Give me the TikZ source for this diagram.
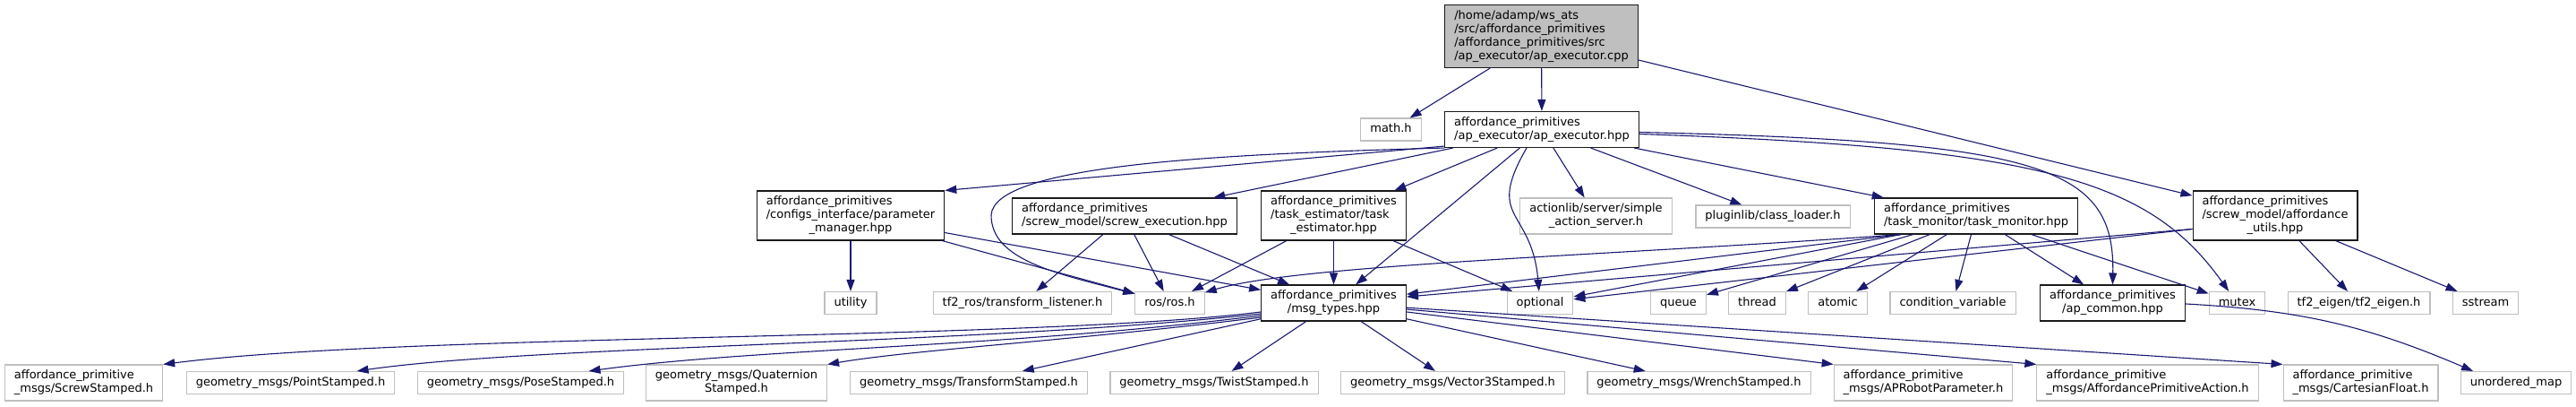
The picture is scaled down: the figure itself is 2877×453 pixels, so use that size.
\documentclass[tikz,border=0pt]{standalone}
\usepackage{fontspec}
\setmainfont{DejaVu Sans}
\usetikzlibrary{arrows.meta}
\definecolor{navy}{HTML}{191970}
\definecolor{grey75}{HTML}{BFBFBF}
\definecolor{ink}{HTML}{1A1A1A}
\newcommand{\dlines}[2]{\begin{tabular}{@{}l@{}}#1\\\multicolumn{1}{@{}c@{}}{#2}\end{tabular}}

\begin{document}
\begin{tikzpicture}[x=1pt,y=1pt,font=\fontsize{13}{15}\selectfont,
  file/.style={draw,line width=1.1pt,inner xsep=10.5pt,inner ysep=5pt,execute at begin node=\strut},
  doc/.style={file,draw=ink,fill=white},
  ext/.style={file,draw=grey75,fill=white},
  mainfile/.style={doc,fill=grey75},
  dep/.style={-{Triangle[length=13pt,width=9pt]},draw=navy,line width=1.1pt}]
\useasboundingbox (0,0) rectangle (2877,-453);
\node[mainfile] (root) at (1721.5,-40.5) {\dlines{/home/adamp/ws\_ats\\/src/affordance\_primitives\\/affordance\_primitives/src}{/ap\_executor/ap\_executor.cpp}};
\node[ext] (mathh) at (1553.5,-144.5) {math.h};
\node[doc] (apexec) at (1722,-144.5) {\dlines{affordance\_primitives}{/ap\_executor/ap\_executor.hpp}};

\node[doc] (param) at (950,-240.5) {\dlines{affordance\_primitives\\/configs\_interface/parameter}{\_manager.hpp}};
\node[doc] (screwexec) at (1256,-241) {\dlines{affordance\_primitives}{/screw\_model/screw\_execution.hpp}};
\node[doc] (taskest) at (1489.5,-240.5) {\dlines{affordance\_primitives\\/task\_estimator/task}{\_estimator.hpp}};
\node[ext] (actionlib) at (1782.5,-241) {\dlines{actionlib/server/simple}{\_action\_server.h}};
\node[ext] (pluginlib) at (1980,-241.5) {pluginlib/class\_loader.h};
\node[doc] (taskmon) at (2207,-241) {\dlines{affordance\_primitives}{/task\_monitor/task\_monitor.hpp}};
\node[doc] (affutils) at (2541,-240.5) {\dlines{affordance\_primitives\\/screw\_model/affordance}{\_utils.hpp}};

\node[ext] (utility) at (950,-338) {utility};
\node[ext] (tfros) at (1142,-338) {tf2\_ros/transform\_listener.h};
\node[ext] (rosh) at (1306.5,-338) {ros/ros.h};
\node[doc] (msgtypes) at (1489.5,-338) {\dlines{affordance\_primitives}{/msg\_types.hpp}};
\node[ext] (optional) at (1720,-338) {optional};
\node[ext] (queue) at (1874.5,-338) {queue};
\node[ext] (thread) at (1962.5,-338) {thread};
\node[ext] (atomic) at (2052.5,-338) {atomic};
\node[ext] (condvar) at (2181,-338) {condition\_variable};
\node[doc] (apcommon) at (2359.5,-338) {\dlines{affordance\_primitives}{/ap\_common.hpp}};
\node[ext] (mutex) at (2498.5,-338) {mutex};
\node[ext] (tfeigen) at (2634.5,-338) {tf2\_eigen/tf2\_eigen.h};
\node[ext] (sstream) at (2776,-338) {sstream};

\node[ext] (screwst) at (93.5,-427) {\dlines{affordance\_primitive}{\_msgs/ScrewStamped.h}};
\node[ext] (pointst) at (324.5,-427) {geometry\_msgs/PointStamped.h};
\node[ext] (posest) at (581.5,-427) {geometry\_msgs/PoseStamped.h};
\node[ext] (quatst) at (822.5,-427) {\dlines{geometry\_msgs/Quaternion}{Stamped.h}};
\node[ext] (transst) at (1082,-427) {geometry\_msgs/TransformStamped.h};
\node[ext] (twistst) at (1356,-427) {geometry\_msgs/TwistStamped.h};
\node[ext] (vecst) at (1622.5,-427) {geometry\_msgs/Vector3Stamped.h};
\node[ext] (wrenchst) at (1897.5,-427) {geometry\_msgs/WrenchStamped.h};
\node[ext] (aprobot) at (2148,-427) {\dlines{affordance\_primitive}{\_msgs/APRobotParameter.h}};
\node[ext] (apaction) at (2398.5,-427) {\dlines{affordance\_primitive}{\_msgs/AffordancePrimitiveAction.h}};
\node[ext] (cartfloat) at (2636.5,-427) {\dlines{affordance\_primitive}{\_msgs/CartesianFloat.h}};
\node[ext] (unordmap) at (2810,-427) {unordered\_map};

\draw[dep] (root) -- (mathh); \draw[dep] (root) -- (apexec); \draw[dep] (root) -- (affutils);

\coordinate (loopturn) at (1107,-240);
\draw[dep] ([yshift=2pt]apexec.south west) -- (param.north east);
\draw[dep] (apexec.south west) .. controls (1350,-172) and (1110,-185) .. (loopturn) .. controls (1107,-290) and (1180,-305) .. (rosh);
\draw[dep] (apexec) -- (screwexec); \draw[dep] (apexec) -- (taskest); \draw[dep] (apexec) -- (msgtypes);
\draw[dep] ([xshift=-17pt]apexec.south) to[out=-120,in=95,looseness=1.5] (optional);
\draw[dep] (apexec) -- (actionlib); \draw[dep] (apexec) -- (pluginlib); \draw[dep] (apexec) -- (taskmon);
\draw[dep] ([yshift=-3pt]apexec.east) .. controls (2280,-158) and (2362,-185) .. (apcommon.north);
\draw[dep] ([yshift=-5pt]apexec.east) .. controls (2280,-165) and (2400,-200) .. (mutex);

\draw[dep] (param) -- (utility); \draw[dep] (param) -- (rosh); \draw[dep] (param) -- (msgtypes);
\draw[dep] (screwexec) -- (tfros); \draw[dep] (screwexec) -- (rosh); \draw[dep] (screwexec) -- (msgtypes);
\draw[dep] (taskest) -- (rosh); \draw[dep] (taskest) -- (msgtypes); \draw[dep] (taskest) -- (optional);

\coordinate (tmfan) at ([xshift=30pt]taskmon.south west);
\draw[dep] (tmfan) -- (msgtypes);
\draw[dep] (tmfan) .. controls (1800,-285) and (1450,-295) .. (rosh);
\draw[dep] (tmfan) -- (optional);
\draw[dep] (taskmon) -- (queue); \draw[dep] (taskmon) -- (thread); \draw[dep] (taskmon) -- (atomic);
\draw[dep] (taskmon) -- (condvar); \draw[dep] (taskmon) -- (apcommon); \draw[dep] (taskmon) -- (mutex);

\coordinate (aufan) at ([yshift=-15pt]affutils.west);
\draw[dep] (aufan) -- (msgtypes); \draw[dep] (aufan) -- (optional);
\draw[dep] (affutils) -- (tfeigen); \draw[dep] (affutils) -- (sstream);
\draw[dep] (apcommon) to[bend left=10] ([xshift=-48pt]unordmap.north);

\draw[dep] ([yshift=-10pt]msgtypes.west) .. controls (1150,-380) and (450,-372) .. (screwst.north east);
\draw[dep] ([yshift=-12pt]msgtypes.west) .. controls (1100,-384) and (600,-385) .. ([xshift=74pt]pointst.north);
\draw[dep] ([yshift=-14pt]msgtypes.west) .. controls (1120,-388) and (850,-388) .. ([xshift=76pt]posest.north);
\draw[dep] ([yshift=-16pt]msgtypes.west) .. controls (1200,-380) and (1020,-390) .. (quatst.north east);
\draw[dep] (msgtypes) -- (transst); \draw[dep] (msgtypes) -- (twistst);
\draw[dep] (msgtypes) -- (vecst); \draw[dep] (msgtypes) -- (wrenchst);
\draw[dep] (msgtypes) -- (aprobot.north west); \draw[dep] (msgtypes) -- (apaction.north west);
\draw[dep] (msgtypes) -- (cartfloat.north west);
\end{tikzpicture}
\end{document}
